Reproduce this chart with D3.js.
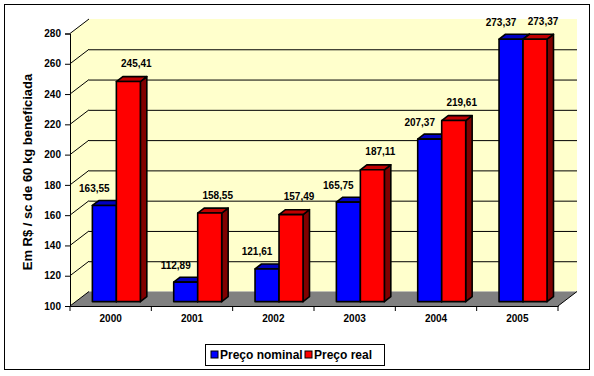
<!DOCTYPE html>
<html><head><meta charset="utf-8">
<script src="https://cdn.jsdelivr.net/npm/d3@7"></script>
<style>
html,body{margin:0;padding:0;background:#fff;}
text{font-family:Arial,"Liberation Sans",sans-serif;font-weight:bold;fill:#000;}
</style></head>
<body>
<svg id="c" width="594" height="376"></svg>
<script>
const years = ["2000","2001","2002","2003","2004","2005"];
const nominal = [163.55, 112.89, 121.61, 165.75, 207.37, 273.37];
const real = [245.41, 158.55, 157.49, 187.11, 219.61, 273.37];
const seriesNames = ["Preço nominal","Preço real"];
const yTicks = [100,120,140,160,180,200,220,240,260,280];
const yTitle = "Em R$ / sc de 60 kg beneficiada";

const fmt = v => d3.format(".2f")(v).replace(".", ",");
const svg = d3.select("#c");

// layout
const pL = 70, pR = 558, pB = 306, pT = 33.5;
const depth = {dx: 19, dy: -14.5};
const fFront = 0.3, fBack = 0.64;

const y = d3.scaleLinear().domain([100,280]).range([pB, pT]);
const x0 = d3.scaleBand().domain(years).range([pL, pR]).padding(0);
const gw = x0.bandwidth() * 0.59;
const x1 = d3.scaleBand().domain(seriesNames).range([0, gw]).padding(0);

const colors = {
  "Preço nominal": {front:"#0000FF", top:"#0000C0", side:"#000080"},
  "Preço real": {front:"#FF0000", top:"#C00000", side:"#800000"}
};

// outer border
svg.append("rect").attr("x",4.5).attr("y",4.5).attr("width",585).attr("height",365)
  .attr("fill","#fff").attr("stroke","#000").attr("stroke-width",1);

const ymin = y(280), ymax = y(100);
// back wall
svg.append("rect").attr("x", pL+depth.dx).attr("y", ymin+depth.dy)
  .attr("width", pR-pL).attr("height", ymax-ymin).attr("fill","#FFFFCC");
// side wall
svg.append("path").attr("d", `M${pL},${ymin}L${pL+depth.dx},${ymin+depth.dy}L${pL+depth.dx},${ymax+depth.dy}L${pL},${ymax}Z`)
  .attr("fill","#FFFFCC");
// floor
svg.append("path").attr("d", `M${pL},${ymax}L${pR},${ymax}L${pR+depth.dx},${ymax+depth.dy}L${pL+depth.dx},${ymax+depth.dy}Z`)
  .attr("fill","#808080");
svg.append("line").attr("x1",pR).attr("y1",ymax).attr("x2",pR+depth.dx).attr("y2",ymax+depth.dy)
  .attr("stroke","#000").attr("stroke-width",1);

// gridlines
const gl = svg.append("g").attr("stroke","#000").attr("stroke-width",1);
yTicks.forEach(v => {
  const yy = y(v);
  gl.append("line").attr("x1",pL).attr("y1",yy).attr("x2",pL+depth.dx).attr("y2",yy+depth.dy);
  if (v > 100 && v < 280) {
    gl.append("line").attr("x1",pL+depth.dx).attr("y1",yy+depth.dy+0.5)
      .attr("x2",pR+depth.dx).attr("y2",yy+depth.dy+0.5);
  }
});

// y axis
const yAxis = d3.axisLeft(y).tickValues(yTicks).tickSize(5).tickPadding(4).tickFormat(d3.format("d"));
const yg = svg.append("g").attr("transform",`translate(${pL},0)`).call(yAxis);
yg.select(".domain").attr("stroke","#000");
yg.selectAll(".tick line").attr("stroke","#000");
yg.selectAll(".tick text").style("font-size","10px").style("font-family","Arial, 'Liberation Sans', sans-serif").style("font-weight","bold").attr("fill","#000");

// x axis
const xg = svg.append("g").attr("transform",`translate(0,${pB})`)
  .call(d3.axisBottom(x0).tickSize(0).tickPadding(9));
xg.select(".domain").attr("stroke","#000");
xg.selectAll(".tick text").style("font-size","10px").style("font-family","Arial, 'Liberation Sans', sans-serif").style("font-weight","bold").attr("fill","#000");
const boundaries = years.map(d => x0(d)).concat([pR]);
svg.append("g").selectAll("line").data(boundaries).join("line")
  .attr("x1",d=>d).attr("x2",d=>d).attr("y1",pB).attr("y2",pB+5).attr("stroke","#000");

// bars
const data = [];
years.forEach((yr,i) => {
  data.push({year:yr, s:seriesNames[0], v:nominal[i]});
  data.push({year:yr, s:seriesNames[1], v:real[i]});
});
const fdx = depth.dx*fFront, fdy = depth.dy*fFront;
const bdx = depth.dx*fBack, bdy = depth.dy*fBack;
const ddx = bdx - fdx, ddy = bdy - fdy;
const bw = x1.bandwidth();
const barG = svg.append("g");
data.forEach(d => {
  const xl = x0(d.year) + (x0.bandwidth()-gw)/2 + x1(d.s) + fdx;
  const xr = xl + bw;
  const yt = y(d.v) + fdy;
  const yb = y(100) + fdy;
  const c = colors[d.s];
  const g = barG.append("g").attr("stroke","#000").attr("stroke-width",1.6).attr("stroke-linejoin","round");
  g.append("path").attr("d",`M${xr},${yt}L${xr+ddx},${yt+ddy}L${xr+ddx},${yb+ddy}L${xr},${yb}Z`).attr("fill",c.side);
  g.append("path").attr("d",`M${xl},${yt}L${xl+ddx},${yt+ddy}L${xr+ddx},${yt+ddy}L${xr},${yt}Z`).attr("fill",c.top);
  g.append("rect").attr("x",xl).attr("y",yt).attr("width",bw).attr("height",yb-yt).attr("fill",c.front);
  d.cx = (xl+xr)/2; d.ty = yt;
});

// data labels
svg.append("g").selectAll("text").data(data).join("text")
  .attr("x", d => d.cx + (d.s===seriesNames[0] ? -10 : 8))
  .attr("y", d => d.ty + (d.s===seriesNames[0] ? -17 : -18))
  .attr("dy","0.35em").attr("text-anchor","middle").style("font-size","10px")
  .text(d => fmt(d.v));

// y title
svg.append("text").attr("transform","translate(32,172) rotate(-90)")
  .attr("text-anchor","middle").style("font-size","13px").text(yTitle);

// legend
const lg = svg.append("g");
lg.append("rect").attr("x",205.5).attr("y",344.5).attr("width",179).attr("height",21)
  .attr("fill","#fff").attr("stroke","#000");
const legendX = [211, 305];
seriesNames.forEach((s,i) => {
  lg.append("rect").attr("x",legendX[i]).attr("y",351).attr("width",7).attr("height",7)
    .attr("fill",colors[s].front).attr("stroke","#000").attr("stroke-width",1);
  lg.append("text").attr("x",legendX[i]+9).attr("y",355).attr("dy","0.35em")
    .style("font-size","12px").text(s);
});
</script>
</body></html>
